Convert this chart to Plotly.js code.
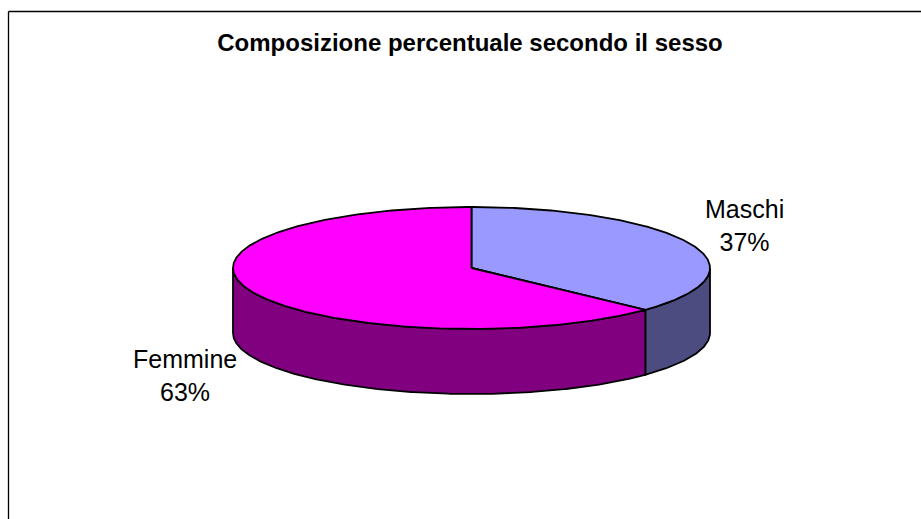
<!DOCTYPE html>
<html>
<head>
<meta charset="utf-8">
<script src="https://cdn.plot.ly/plotly-3.0.1.min.js"></script>
<style>
  html, body { margin: 0; padding: 0; background: #ffffff; overflow: hidden; }
  #chart { width: 921px; height: 519px; }
</style>
</head>
<body>
<div id="chart"></div>
<script>
// ---- data ----
const labels = ['Maschi', 'Femmine'];
const values = [37, 63];
const chartTitle = 'Composizione percentuale secondo il sesso';

// ---- style / geometry (pixel space of the 921x519 canvas) ----
const topColors = ['#9999FF', '#FF00FF'];
const sideColors = ['#4C4C80', '#800080'];
const geom = { cx: 471.5, cy: 268, rx: 238.5, ry: 61, depth: 65 };
const labelPos = [ { x: 744, y: 225 }, { x: 185, y: 375 } ];
const FONT = 'Liberation Sans, Arial, Helvetica, sans-serif';

function pt(deg, dy) {
  const r = deg * Math.PI / 180;
  return [geom.cx + geom.rx * Math.sin(r), geom.cy - geom.ry * Math.cos(r) + dy];
}
function arc(a0, a1, dy) {
  const xs = [], ys = [];
  const n = Math.max(2, Math.ceil(Math.abs(a1 - a0) / 0.5));
  for (let i = 0; i <= n; i++) {
    const p = pt(a0 + (a1 - a0) * i / n, dy);
    xs.push(p[0]); ys.push(p[1]);
  }
  return [xs, ys];
}

const total = values.reduce((a, b) => a + b, 0);
const slices = [];
let acc = 0;
values.forEach((v, i) => {
  const a0 = acc / total * 360;
  acc += v;
  const a1 = acc / total * 360;
  slices.push({ a0, a1, i });
});

const traces = [];
// side walls (front half: 90..270 deg)
slices.forEach(s => {
  const s0 = Math.max(s.a0, 90), s1 = Math.min(s.a1, 270);
  if (s1 <= s0) return;
  const t = arc(s0, s1, 0), b = arc(s1, s0, geom.depth);
  const xs = t[0].concat(b[0]); const ys = t[1].concat(b[1]);
  xs.push(xs[0]); ys.push(ys[0]);
  traces.push({
    type: 'scatter', mode: 'lines', x: xs, y: ys, fill: 'toself',
    fillcolor: sideColors[s.i], line: { color: '#000000', width: 1.8 },
    hoverinfo: 'skip', showlegend: false
  });
});
// top faces
slices.forEach(s => {
  const a = arc(s.a0, s.a1, 0);
  const xs = [geom.cx].concat(a[0], [geom.cx]);
  const ys = [geom.cy].concat(a[1], [geom.cy]);
  traces.push({
    type: 'scatter', mode: 'lines', x: xs, y: ys, fill: 'toself',
    fillcolor: topColors[s.i], line: { color: '#000000', width: 1.8 },
    hoverinfo: 'skip', showlegend: false, name: labels[s.i]
  });
});

const annotations = labels.map((l, i) => ({
  x: labelPos[i].x, y: labelPos[i].y, xref: 'x', yref: 'y',
  text: l + '<br>' + Math.round(values[i] / total * 100) + '%',
  showarrow: false, align: 'center', xanchor: 'center', yanchor: 'middle',
  font: { family: FONT, size: 25, color: '#000000' }
}));

const layout = {
  width: 921, height: 519,
  margin: { l: 0, r: 0, t: 0, b: 0, pad: 0 },
  paper_bgcolor: '#ffffff', plot_bgcolor: '#ffffff',
  showlegend: false,
  title: {
    text: '<b>' + chartTitle + '</b>',
    font: { family: FONT, size: 24, color: '#000000' },
    x: 470 / 921, xanchor: 'center', xref: 'paper',
    y: 1 - 43 / 519, yanchor: 'middle', yref: 'paper'
  },
  xaxis: { range: [0, 921], visible: false, fixedrange: true },
  yaxis: { range: [519, 0], visible: false, fixedrange: true },
  shapes: [
    { type: 'line', xref: 'x', yref: 'y', x0: 8.5, y0: 11.5, x1: 921, y1: 11.5,
      line: { color: '#000000', width: 1.3 } },
    { type: 'line', xref: 'x', yref: 'y', x0: 8.5, y0: 11.5, x1: 8.5, y1: 519,
      line: { color: '#000000', width: 1.3 } }
  ],
  annotations: annotations
};

Plotly.newPlot('chart', traces, layout, { staticPlot: true, displayModeBar: false });
</script>
</body>
</html>
